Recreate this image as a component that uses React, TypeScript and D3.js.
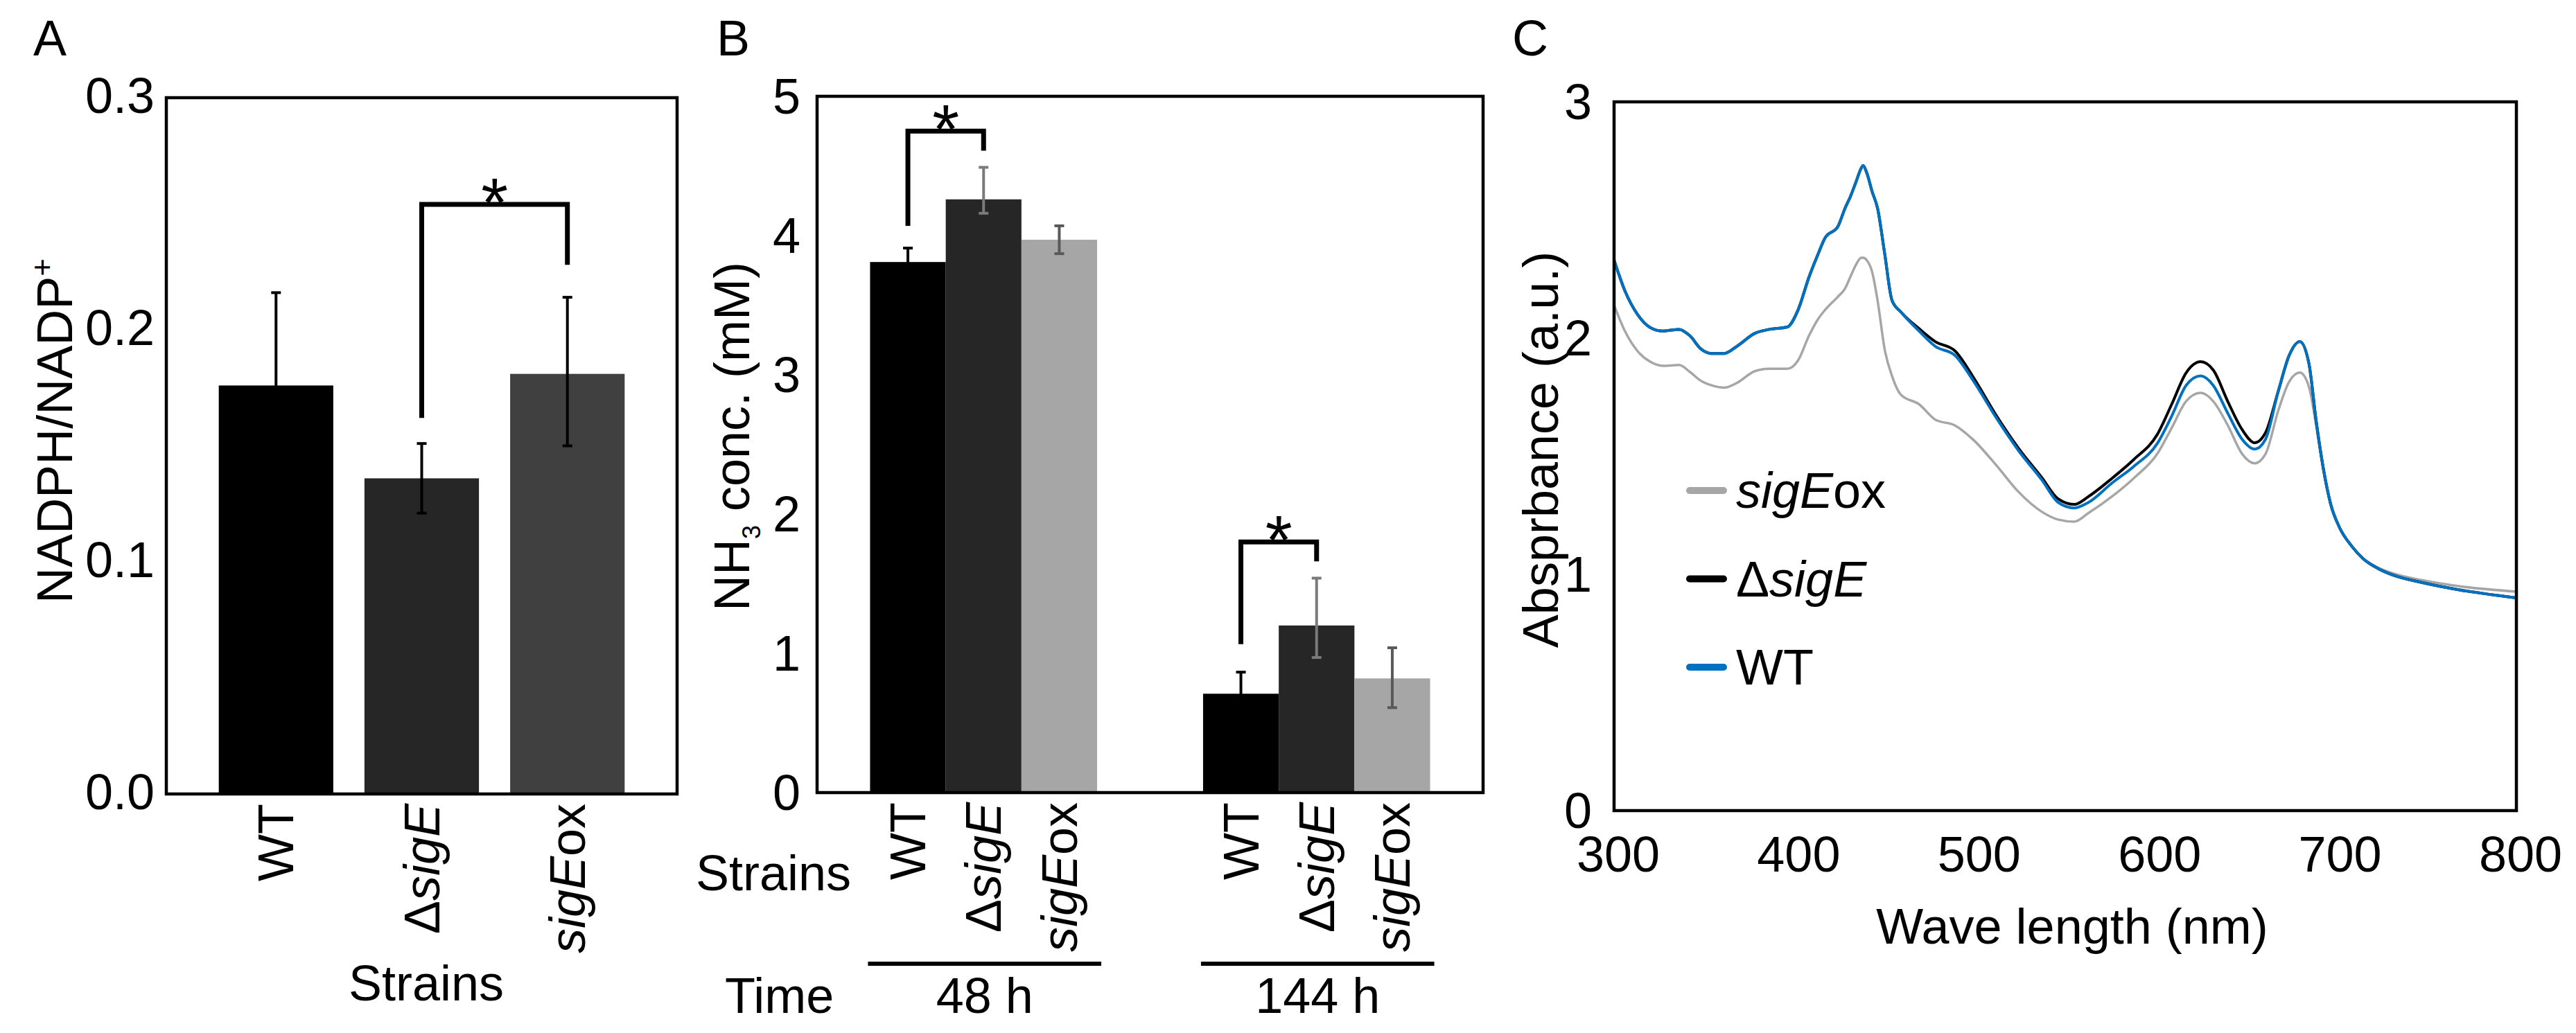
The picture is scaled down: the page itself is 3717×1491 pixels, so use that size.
import React from "react";
import * as d3 from "d3";

// ---------------- Panel A data ----------------
const strainsA = ["WT", "ΔsigE", "sigEox"];
const nadphRatio = [0.176, 0.136, 0.181];
const nadphErrUp = [0.04, 0.015, 0.033];
const nadphErrDown = [0.04, 0.015, 0.031];
const nadphTicks = [0.0, 0.1, 0.2, 0.3];
const nadphTickLabels = ["0.0", "0.1", "0.2", "0.3"];
const sigBracketA = { from: 1, to: 2, top: 0.254, leftEnd: 0.162, rightEnd: 0.228 };

// ---------------- Panel B data ----------------
const timeGroups = ["48 h", "144 h"];
const strainsB = ["WT", "ΔsigE", "sigEox"];
const nh3At48h = [3.81, 4.26, 3.97];
const nh3At144h = [0.71, 1.2, 0.82];
const nh3ErrUp48h = [0.1, 0.23, 0.1];
const nh3ErrDown48h = [0.1, 0.1, 0.1];
const nh3ErrUp144h = [0.155, 0.34, 0.22];
const nh3ErrDown144h = [0.155, 0.23, 0.21];
const nh3Ticks = [0, 1, 2, 3, 4, 5];
const sigBracketB48 = { from: 0, to: 1, top: 4.75, leftEnd: 4.07, rightEnd: 4.61 };
const sigBracketB144 = { from: 0, to: 1, top: 1.8, leftEnd: 1.066, rightEnd: 1.66 };

// ---------------- Panel C data ----------------
const wavelengths = [
  300, 306, 313, 320, 327, 336, 342, 348, 354, 361, 368, 378, 386, 396, 402, 408, 413, 417, 424, 428,
  431, 434, 437, 438, 440, 443, 446, 450, 454, 459, 469, 478, 489, 499, 512, 524, 537, 546, 555, 563,
  576, 588, 601, 609, 617, 625, 632, 640, 648, 655, 661, 668, 674, 680, 685, 689, 693, 697, 702, 709,
  715, 723, 732, 748, 768, 800,
];
const absWT = [
  2.33, 2.2, 2.1, 2.045, 2.03, 2.037, 2.01, 1.955, 1.935, 1.935, 1.965, 2.02, 2.037, 2.047, 2.12, 2.258, 2.355, 2.425, 2.472, 2.55,
  2.6, 2.66, 2.72, 2.73, 2.7, 2.62, 2.55, 2.355, 2.16, 2.11, 2.03, 1.965, 1.926, 1.82, 1.66, 1.525, 1.4, 1.305, 1.281, 1.305,
  1.387, 1.457, 1.554, 1.67, 1.8, 1.84, 1.8, 1.683, 1.572, 1.53, 1.572, 1.774, 1.925, 1.985, 1.894, 1.652, 1.45, 1.3, 1.198, 1.117,
  1.067, 1.026, 0.996, 0.965, 0.935, 0.9,
];
const absDeltaSigE = [
  2.33, 2.2, 2.1, 2.045, 2.03, 2.037, 2.01, 1.955, 1.935, 1.935, 1.965, 2.02, 2.037, 2.047, 2.12, 2.258, 2.355, 2.425, 2.472, 2.55,
  2.6, 2.66, 2.72, 2.73, 2.7, 2.62, 2.55, 2.355, 2.16, 2.11, 2.04, 1.985, 1.945, 1.835, 1.67, 1.535, 1.41, 1.32, 1.296, 1.33,
  1.407, 1.486, 1.592, 1.72, 1.853, 1.9, 1.865, 1.733, 1.613, 1.557, 1.6, 1.774, 1.925, 1.985, 1.894, 1.652, 1.45, 1.3, 1.198, 1.117,
  1.067, 1.026, 0.996, 0.965, 0.935, 0.9,
];
const absSigEox = [
  2.14, 2.03, 1.945, 1.9, 1.883, 1.886, 1.857, 1.82, 1.8, 1.79, 1.81, 1.86, 1.87, 1.87, 1.906, 2.01, 2.08, 2.12, 2.175, 2.21,
  2.26, 2.31, 2.34, 2.34, 2.33, 2.28, 2.16, 1.95, 1.84, 1.76, 1.72, 1.655, 1.63, 1.57, 1.46, 1.35, 1.265, 1.232, 1.223, 1.26,
  1.33, 1.407, 1.51, 1.62, 1.733, 1.768, 1.733, 1.632, 1.51, 1.47, 1.51, 1.692, 1.814, 1.854, 1.795, 1.632, 1.44, 1.3, 1.198, 1.117,
  1.067, 1.03, 1.003, 0.975, 0.95, 0.927,
];
const absTicks = [0, 1, 2, 3];
const wlTicks = [300, 400, 500, 600, 700, 800];
const legendItems = ["sigEox", "ΔsigE", "WT"];

// ---------------- styling ----------------
const FONT = "'Liberation Sans', Arial, Helvetica, sans-serif";
const FS = 72;
const colorsA = ["#000000", "#262626", "#404040"];
const colorsB = ["#000000", "#262626", "#a6a6a6"];
const errColorsB = ["#000000", "#7a7a7a", "#595959"];
const lineColors: Record<string, string> = { WT: "#0070c0", "ΔsigE": "#000000", sigEox: "#a6a6a6" };

function StrainText({ name }: { name: string }) {
  if (name === "ΔsigE")
    return (
      <>
        <tspan>Δ</tspan>
        <tspan fontStyle="italic">sigE</tspan>
      </>
    );
  if (name === "sigEox")
    return (
      <>
        <tspan fontStyle="italic">sigE</tspan>
        <tspan>ox</tspan>
      </>
    );
  return <tspan>{name}</tspan>;
}

function ErrorBar({ x, y0, y1, color }: { x: number; y0: number; y1: number; color: string }) {
  const cw = 7;
  return (
    <g stroke={color} strokeWidth={4}>
      <line x1={x} x2={x} y1={y0} y2={y1} />
      <line x1={x - cw} x2={x + cw} y1={y0} y2={y0} />
      <line x1={x - cw} x2={x + cw} y1={y1} y2={y1} />
    </g>
  );
}

function Bracket({ xl, xr, yTop, yl, yr }: { xl: number; xr: number; yTop: number; yl: number; yr: number }) {
  return (
    <g>
      <path
        d={`M${xl},${yl}V${yTop}H${xr}V${yr}`}
        fill="none"
        stroke="#000"
        strokeWidth={7}
        strokeLinejoin="miter"
      />
      <text x={(xl + xr) / 2} y={yTop + 32} fontSize={100} textAnchor="middle" fontFamily={FONT}>
        *
      </text>
    </g>
  );
}

export default function App() {
  // ---------- Panel A ----------
  const A = { l: 240, r: 977, t: 141, b: 1146 };
  const xA = d3.scaleBand<string>().domain(strainsA).range([A.l, A.r]).paddingInner(0.214).paddingOuter(0.36);
  const yA = d3.scaleLinear().domain([0, 0.3]).range([A.b, A.t]);
  const bwA = xA.bandwidth();
  const cA = (i: number) => (xA(strainsA[i]) as number) + bwA / 2;

  // ---------- Panel B ----------
  const B = { l: 1179, r: 2140, t: 139, b: 1144 };
  const xGroup = d3.scaleBand<string>().domain(timeGroups).range([B.l, B.r]).padding(0);
  const xInner = d3.scaleBand<string>().domain(strainsB).range([0, xGroup.bandwidth()]).paddingInner(0).paddingOuter(0.7);
  const yB = d3.scaleLinear().domain([0, 5]).range([B.b, B.t]);
  const bwB = xInner.bandwidth();
  const nh3Values = [nh3At48h, nh3At144h];
  const nh3Up = [nh3ErrUp48h, nh3ErrUp144h];
  const nh3Down = [nh3ErrDown48h, nh3ErrDown144h];
  const bx = (g: number, i: number) => (xGroup(timeGroups[g]) as number) + (xInner(strainsB[i]) as number);
  const bc = (g: number, i: number) => bx(g, i) + bwB / 2;

  // ---------- Panel C ----------
  const C = { l: 2329, r: 3631, t: 147, b: 1170 };
  const xC = d3.scaleLinear().domain([300, 800]).range([C.l, C.r]);
  const yC = d3.scaleLinear().domain([0, 3]).range([C.b, C.t]);
  const line = d3
    .line<number>()
    .x((_, i) => xC(wavelengths[i]))
    .y((d) => yC(d))
    .curve(d3.curveMonotoneX);
  const series: { name: string; values: number[]; w: number }[] = [
    { name: "sigEox", values: absSigEox, w: 3.5 },
    { name: "ΔsigE", values: absDeltaSigE, w: 4 },
    { name: "WT", values: absWT, w: 4 },
  ];

  return (
    <div style={{ position: "absolute", left: 0, top: 0 }}>
      <svg width={3717} height={1491} style={{ display: "block", background: "#fff" }} fontFamily={FONT} fontSize={FS}>
        {/* ================= Panel A ================= */}
        <text x={48} y={80}>A</text>
        {strainsA.map((s, i) => (
          <rect key={s} x={xA(s)} y={yA(nadphRatio[i])} width={bwA} height={A.b - yA(nadphRatio[i])} fill={colorsA[i]} />
        ))}
        {strainsA.map((s, i) => (
          <ErrorBar
            key={"e" + s}
            x={cA(i)}
            y0={yA(nadphRatio[i] + nadphErrUp[i])}
            y1={yA(nadphRatio[i] - nadphErrDown[i])}
            color="#000"
          />
        ))}
        <Bracket
          xl={cA(sigBracketA.from)}
          xr={cA(sigBracketA.to)}
          yTop={yA(sigBracketA.top)}
          yl={yA(sigBracketA.leftEnd)}
          yr={yA(sigBracketA.rightEnd)}
        />
        <rect x={A.l} y={A.t} width={A.r - A.l} height={A.b - A.t} fill="none" stroke="#000" strokeWidth={4.5} />
        {nadphTicks.map((t, i) => (
          <text key={t} x={223} y={yA(t)} dy="0.3em" textAnchor="end">
            {nadphTickLabels[i]}
          </text>
        ))}
        {strainsA.map((s, i) => (
          <text key={"l" + s} transform={`translate(${cA(i)},${A.b + 14}) rotate(-90)`} textAnchor="end" dy="0.35em">
            <StrainText name={s} />
          </text>
        ))}
        <text x={615} y={1444} textAnchor="middle">Strains</text>
        <text transform={`translate(104,622) rotate(-90)`} textAnchor="middle">
          <tspan>NADPH/NADP</tspan>
          <tspan dy={-28} fontSize={44}>+</tspan>
        </text>

        {/* ================= Panel B ================= */}
        <text x={1034} y={80}>B</text>
        {timeGroups.map((g, gi) =>
          strainsB.map((s, i) => (
            <rect
              key={g + s}
              x={bx(gi, i)}
              y={yB(nh3Values[gi][i])}
              width={bwB}
              height={B.b - yB(nh3Values[gi][i])}
              fill={colorsB[i]}
            />
          ))
        )}
        {timeGroups.map((g, gi) =>
          strainsB.map((s, i) => (
            <ErrorBar
              key={"e" + g + s}
              x={bc(gi, i)}
              y0={yB(nh3Values[gi][i] + nh3Up[gi][i])}
              y1={yB(nh3Values[gi][i] - nh3Down[gi][i])}
              color={errColorsB[i]}
            />
          ))
        )}
        {[sigBracketB48, sigBracketB144].map((br, gi) => (
          <Bracket
            key={"br" + gi}
            xl={bc(gi, br.from)}
            xr={bc(gi, br.to)}
            yTop={yB(br.top)}
            yl={yB(br.leftEnd)}
            yr={yB(br.rightEnd)}
          />
        ))}
        <rect x={B.l} y={B.t} width={B.r - B.l} height={B.b - B.t} fill="none" stroke="#000" strokeWidth={4.5} />
        {nh3Ticks.map((t) => (
          <text key={t} x={1155} y={yB(t)} dy="0.35em" textAnchor="end">
            {t}
          </text>
        ))}
        {timeGroups.map((g, gi) =>
          strainsB.map((s, i) => (
            <text
              key={"l" + g + s}
              transform={`translate(${bc(gi, i)},${B.b + 14}) rotate(-90)`}
              textAnchor="end"
              dy="0.35em"
            >
              <StrainText name={s} />
            </text>
          ))
        )}
        <text x={1004} y={1285}>Strains</text>
        <text x={1046} y={1462}>Time</text>
        {timeGroups.map((g, gi) => {
          const x0 = bx(gi, 0) - 3;
          const x1 = bx(gi, 2) + bwB + 6;
          return (
            <g key={"t" + g}>
              <line x1={x0} x2={x1} y1={1391} y2={1391} stroke="#000" strokeWidth={6} />
              <text x={(x0 + x1) / 2} y={1462} textAnchor="middle">
                {g}
              </text>
            </g>
          );
        })}
        <text transform={`translate(1081,630) rotate(-90)`} textAnchor="middle">
          <tspan>NH</tspan>
          <tspan dy={16} fontSize={36}>3</tspan>
          <tspan dy={-16}> conc. (mM)</tspan>
        </text>

        {/* ================= Panel C ================= */}
        <text x={2182} y={80}>C</text>
        {series.map((s) => (
          <path
            key={s.name}
            d={line(s.values) as string}
            fill="none"
            stroke={lineColors[s.name]}
            strokeWidth={s.w}
            strokeLinejoin="round"
          />
        ))}
        <rect x={C.l} y={C.t} width={C.r - C.l} height={C.b - C.t} fill="none" stroke="#000" strokeWidth={4.5} />
        {absTicks.map((t) => (
          <text key={t} x={2297} y={yC(t)} dy="0.35em" textAnchor="end">
            {t}
          </text>
        ))}
        {wlTicks.map((t) => (
          <text key={t} x={xC(t) + 6} y={1258} textAnchor="middle">
            {t}
          </text>
        ))}
        <text x={2990} y={1362} textAnchor="middle">Wave length (nm)</text>
        <text transform={`translate(2248,649) rotate(-90)`} textAnchor="middle">
          Absprbance (a.u.)
        </text>
        {legendItems.map((name, i) => {
          const y = 708 + i * 127.5;
          return (
            <g key={"lg" + name}>
              <line x1={2438} x2={2487} y1={y} y2={y} stroke={lineColors[name]} strokeWidth={10} strokeLinecap="round" />
              <text x={2505} y={y} dy="0.35em">
                <StrainText name={name} />
              </text>
            </g>
          );
        })}
      </svg>
    </div>
  );
}
